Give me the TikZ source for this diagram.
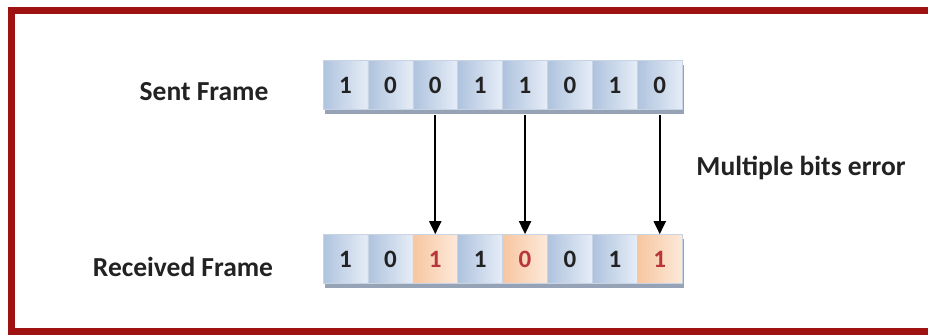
\documentclass[tikz,border=0pt]{standalone}
\usepackage{fontspec}
\setmainfont{Carlito}
\usetikzlibrary{shadows,arrows.meta}
\definecolor{framec}{HTML}{9E1212}
\definecolor{blueA}{HTML}{AFC3DE}
\definecolor{blueB}{HTML}{E6EDF7}
\definecolor{orA}{HTML}{F7C6A0}
\definecolor{orB}{HTML}{FDE9DA}
\definecolor{cellline}{HTML}{C8D3E3}
\definecolor{shadowc}{HTML}{96A3B6}
\definecolor{txt}{HTML}{222222}
\definecolor{errtxt}{HTML}{B8353A}
\begin{document}
\begin{tikzpicture}[x=1pt,y=1pt,
  cell/.style={minimum width=44.9pt, minimum height=49pt, inner sep=0pt,
    draw=cellline, line width=0.6pt, left color=blueA, right color=blueB,
    font=\fontsize{25}{27}\selectfont\bfseries, text=txt,
    drop shadow={shadow xshift=1.5pt, shadow yshift=-5pt, fill=shadowc, opacity=1}},
  c0/.style={cell},
  c1/.style={cell, left color=orA, right color=orB, text=errtxt},
  lbl/.style={font=\fontsize{27.5}{30}\selectfont\bfseries, text=txt, inner sep=0pt},
  arr/.style={-{Triangle[length=13pt,width=12pt]}, line width=1.9pt, black}]
\useasboundingbox (0,0) rectangle (928,336);
\fill[white] (0,0) rectangle (928,336);
\draw[framec, line width=7pt] (11.5,4.5) rectangle (945,325);
\foreach \b [count=\i] in {1,0,0,1,1,0,1,0}
  \node[c0] (s\i) at ({323+44.9*(\i-0.5)},251) {\b};
\foreach \b/\e [count=\i] in {1/0,0/0,1/1,1/0,0/1,0/0,1/0,1/1}
  \node[c\e] (r\i) at ({323+44.9*(\i-0.5)},77) {\b};
\node[lbl] (sent) at (204,244) {Sent Frame};
\node[lbl] (recv) at (183,69) {Received Frame};
\node[lbl] (mult) at (801,168) {Multiple bits error};
\foreach \k in {3,5,8}
  \draw[arr] ([yshift=-5pt]s\k.south) -- (r\k.north);
\end{tikzpicture}
\end{document}
